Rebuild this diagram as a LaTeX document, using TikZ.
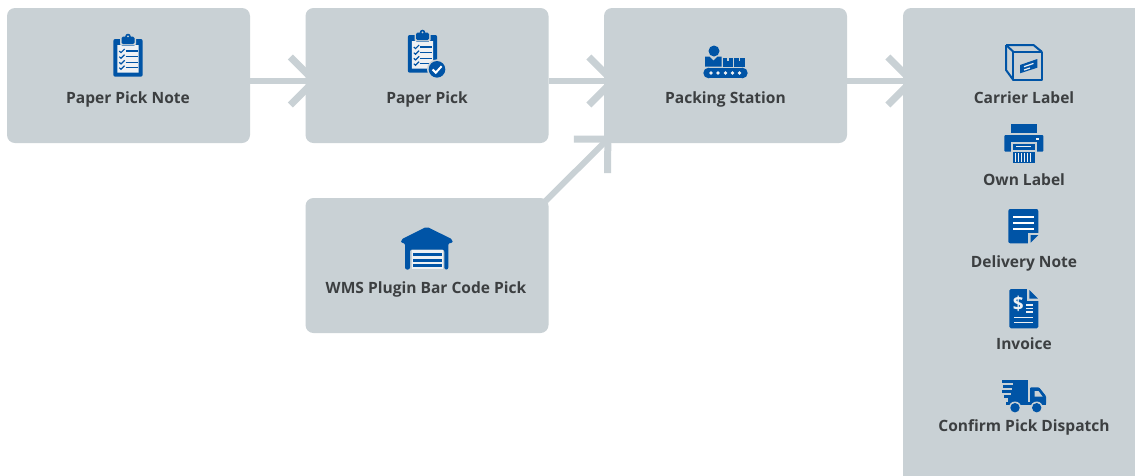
\documentclass[tikz,border=0pt]{standalone}
\usepackage{fontspec}
\setmainfont{Open Sans}
\usetikzlibrary{arrows.meta}
\pgfdeclarelayer{under}
\pgfsetlayers{under,main}
\definecolor{panel}{RGB}{201,209,213}
\definecolor{iconblue}{RGB}{0,84,166}
\definecolor{labelgrey}{RGB}{60,63,65}
\tikzset{
  panelbox/.style={fill=panel,rounded corners=8pt,inner sep=0pt,minimum width=243pt,minimum height=135pt},
  lbl/.style={text=labelgrey,font=\bfseries\fontsize{15.55}{18}\selectfont,inner sep=0pt,anchor=base},
  flow/.style={draw=panel,line width=6pt,-{Straight Barb[length=24pt,width=48pt,line width=7pt]}},
  wl/.style={draw=white,line width=1.8pt},
  ol/.style={draw=iconblue,line width=2pt,line join=round},
  clipboardicon/.pic={
    \fill[iconblue,rounded corners=2pt] (-14.7,-17) rectangle (14.7,20.7);
    \fill[panel,rounded corners=1pt] (-8,-18) rectangle (8,-11);
    \fill[iconblue,rounded corners=1.5pt] (-6.5,-19.5) rectangle (6.5,-12);
    \fill[iconblue] (0,-19.5) circle (2.8);
    \fill[panel] (0,-19.7) circle (1);
    \fill[white!70!panel] (-10.7,-11) -- (-6.5,-11) -- (-6.5,-10.5) -- (6.5,-10.5) -- (6.5,-11) -- (10.7,-11) -- (10.7,16.7) -- (-10.7,16.7) -- cycle;
    \foreach \yy in {-5,0.7,6.3,11.7} {
      \draw[iconblue,line width=1.2pt] (-8.7,\yy) -- (-7,{\yy+1.6}) -- (-3.4,{\yy-2});
      \draw[iconblue,line width=1.5pt] (-2.3,\yy) -- (9.7,\yy);
    }
  }
}
\begin{document}
\begin{tikzpicture}[x=1pt,y=-1pt]
\useasboundingbox (0,0) rectangle (1135,475);
\begin{pgfonlayer}{under}
\fill[white] (0,0) rectangle (1135,475);
\end{pgfonlayer}
\clip (0,0) rectangle (1135,475);

% boxes
\node[panelbox] (note) at (128.5,75.5) {};
\node[panelbox] (pick) at (427,75.5) {};
\node[panelbox] (packing) at (725.5,75.5) {};
\node[panelbox] (wms) at (427,265.5) {};
\node[panelbox,minimum width=250pt,minimum height=500pt] (panelr) at (1028,258) {};

% connectors
\begin{pgfonlayer}{under}
\coordinate (o1) at ([yshift=-5.5pt]note.east);
\coordinate (o2) at ([yshift=-5.5pt]pick.east);
\coordinate (o3) at ([yshift=-5.5pt]packing.east);
\draw[flow] (o1) -- ([xshift=14pt]o1 -| pick.west);
\draw[flow] (o2) -- ([xshift=14pt]o2 -| packing.west);
\draw[flow] (o3) -- ([xshift=14pt]o3 -| panelr.west);
\draw[flow] ([xshift=-3pt,yshift=-3pt]wms.north east) -- ([xshift=7.5pt,yshift=7.5pt]packing.south west);
\end{pgfonlayer}

% labels
\node[lbl] (t1) at (128,103) {Paper Pick Note};
\node[lbl] (t2) at (427,103) {Paper Pick};
\node[lbl] (t3) at (725.5,103) {Packing Station};
\node[lbl] (t4) at (426,293.5) {WMS Plugin Bar Code Pick};
\node[lbl] (t5) at (1024,103) {Carrier Label};
\node[lbl] (t6) at (1024,185) {Own Label};
\node[lbl] (t7) at (1024,267) {Delivery Note};
\node[lbl] (t8) at (1024,349) {Invoice};
\node[lbl] (t9) at (1024,431) {Confirm Pick Dispatch};

% clipboard icons
\pic at (128,56) {clipboardicon};
\pic at (422.5,52) {clipboardicon};
\fill[panel] (437,69.3) circle (10);
\fill[iconblue] (437,69.3) circle (8.3);
\draw[white,line width=2pt] (432.6,69.5) -- (435.8,72.7) -- (441.6,66.2);

% conveyor
\fill[iconblue] (708.6,73) circle (5.3);
\fill[iconblue] (742.4,73) circle (5.3);
\fill[iconblue] (708.6,67.7) rectangle (742.4,78.3);
\foreach \xx in {711,718,725.5,732.5,739.5} \fill[white!70!panel] (\xx,73) circle (1.9);
\fill[iconblue] (714,51) circle (5.5);
\fill[iconblue] (705,66.7) -- (705,56.7) -- (709.5,56.7) -- (713.5,60.5) -- (717.5,56.7) -- (721.7,56.7) -- (721.7,66.7) -- cycle;
\fill[iconblue] (723.3,58.3) rectangle (732.7,66.7);
\fill[iconblue] (734,58.3) rectangle (745,66.7);
\fill[panel] (727.3,58.3) rectangle (728.7,61);
\fill[panel] (738.8,58.3) rectangle (740.2,61);

% garage
\fill[iconblue,rounded corners=2pt] (401,243) -- (401,239.5) -- (426.7,226.7) -- (452.7,239.5) -- (452.7,243) -- (448.3,243) -- (448.3,269.5) -- (444.3,269.5) -- (444.3,249.5) -- (410,249.5) -- (410,269.5) -- (405,269.5) -- (405,243) -- cycle;
\fill[white!70!panel] (411.5,249.5) rectangle (442.7,269);
\foreach \yy in {253.3,259,264.3} \fill[iconblue] (412.5,\yy) rectangle (442,{\yy+2.9});

% carrier box
\draw[ol] (1013.3,51.7) rectangle (1041.7,80);
\draw[ol] (1006,45) -- (1033.5,45) -- (1041.7,51.7);
\draw[ol] (1006,45) -- (1006,70) -- (1013.3,80);
\draw[ol] (1006,45) -- (1013.3,51.7);
\fill[iconblue] (1020,65) -- (1037.3,59) -- (1037.3,67.7) -- (1020,73.3) -- cycle;
\draw[white!70!panel,line width=1.2pt] (1024,66.7) -- (1033.5,63.4);
\draw[white!70!panel,line width=1.2pt] (1024,70) -- (1030,68);

% printer
\fill[iconblue] (1011,124) rectangle (1036.7,133.3);
\fill[iconblue,rounded corners=1pt] (1004.3,135) rectangle (1043.3,151.7);
\fill[white!70!panel] (1035.5,138.4) rectangle (1038.5,140.4);
\fill[panel] (1010.5,141.5) rectangle (1037,164);
\fill[iconblue] (1012.5,143.5) rectangle (1035,150);
\fill[iconblue] (1012.5,150) rectangle (1035,163);
\draw[white!70!panel,line width=1.2pt] (1016,146.2) -- (1031,146.2);
\fill[panel] (1012.5,149.7) rectangle (1035,151.7);
\foreach \xx in {1015.5,1018.5,...,1033} \draw[white!70!panel,line width=0.8pt] (\xx,153) -- (\xx,162);

% delivery note
\fill[iconblue,rounded corners=2pt] (1008.3,209) rectangle (1038.3,243.3);
\foreach \yy in {217.3,223.3,229.3} \draw[wl] (1013.3,\yy) -- (1034.3,\yy);
\fill[panel] (1028.3,232.7) rectangle (1039,244);
\fill[iconblue] (1030.7,235) -- (1038.3,235) -- (1030.7,242.7) -- cycle;

% invoice
\fill[iconblue,rounded corners=1.5pt] (1009.3,289) -- (1027.7,289) -- (1038.3,299.3) -- (1038.3,328.3) -- (1009.3,328.3) -- cycle;
\fill[panel] (1027.3,288.5) -- (1038.8,288.5) -- (1038.8,300.5) -- (1027.3,300.5) -- cycle;
\fill[iconblue] (1029.3,290) -- (1037.8,298.5) -- (1029.3,298.5) -- cycle;
\node[text=white!70!panel,font=\bfseries\fontsize{19}{19}\selectfont,inner sep=0pt] (dollar) at (1018.3,304) {\$};
\foreach \yy in {305,308.3,312} \draw[white!70!panel,line width=1.1pt] (1026,\yy) -- (1033,\yy);
\foreach \yy in {317.3,322.7} \draw[white!70!panel,line width=1.5pt] (1014.3,\yy) -- (1033.3,\yy);

% truck
\fill[iconblue] (1007.5,380) rectangle (1028.3,403);
\fill[iconblue] (1001.7,380) rectangle (1008,382.7);
\fill[iconblue] (1003,385) rectangle (1008,387.5);
\fill[iconblue] (1002,390) rectangle (1008,392.5);
\fill[iconblue] (1003.5,395) rectangle (1008,397.5);
\fill[panel] (1006,383) rectangle (1013,384.6);
\fill[panel] (1005,388) rectangle (1012,389.6);
\fill[panel] (1005,393) rectangle (1011,394.6);
\fill[panel] (1005,398) rectangle (1008,403);
\fill[iconblue,rounded corners=1pt] (1030,387.3) -- (1039,387.3) -- (1046,396) -- (1046,404.5) -- (1030,404.5) -- cycle;
\fill[iconblue] (1006,402) rectangle (1046,404.5);
\fill[panel] (1034.5,391) -- (1038.5,391) -- (1042.5,396.5) -- (1034.5,396.5) -- cycle;
\fill[panel] (1015,407.7) circle (6.2);
\fill[panel] (1036.7,407.7) circle (6.2);
\fill[iconblue] (1015,407.7) circle (4.7);
\fill[iconblue] (1036.7,407.7) circle (4.7);
\end{tikzpicture}
\end{document}
